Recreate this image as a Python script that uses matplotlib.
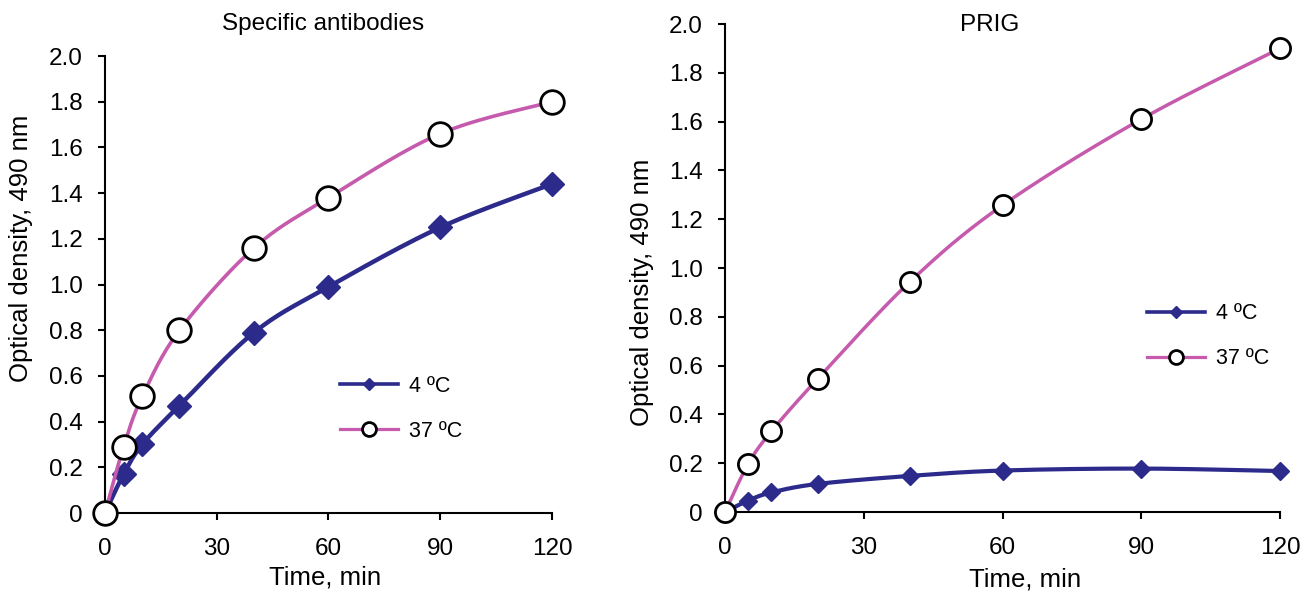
import numpy as np
import matplotlib
matplotlib.use("Agg")
import matplotlib.pyplot as plt
from matplotlib.lines import Line2D

plt.rcParams['font.family'] = ['Liberation Sans', 'DejaVu Sans']

# время, мин
time_min = [0, 5, 10, 20, 40, 60, 90, 120]

# Specific antibodies
spec_4c = [0, 0.17, 0.30, 0.47, 0.79, 0.99, 1.25, 1.44]
spec_37c = [0, 0.29, 0.51, 0.80, 1.16, 1.38, 1.66, 1.80]

# PRIG
prig_4c = [0, 0.047, 0.08, 0.115, 0.148, 0.17, 0.178, 0.168]
prig_37c = [0, 0.197, 0.33, 0.545, 0.944, 1.257, 1.61, 1.90]

y_ticks = [0, 0.2, 0.4, 0.6, 0.8, 1.0, 1.2, 1.4, 1.6, 1.8, 2.0]
y_labels = ['0', '0.2', '0.4', '0.6', '0.8', '1.0', '1.2', '1.4', '1.6', '1.8', '2.0']
x_ticks = [0, 30, 60, 90, 120]

NAVY = '#2c2b8c'
PINK = '#c65aad'


def smooth(xs, ys, n=30):
    # сглаживание как в Excel (Catmull-Rom)
    p = np.column_stack([xs, ys]).astype(float)
    p = np.vstack([p[0], p, p[-1]])
    out = []
    t = np.linspace(0, 1, n)
    for i in range(1, len(p) - 2):
        p0, p1, p2, p3 = p[i-1], p[i], p[i+1], p[i+2]
        c1 = p1 + (p2 - p0) / 6
        c2 = p2 - (p3 - p1) / 6
        seg = ((1-t)**3)[:, None]*p1 + (3*(1-t)**2*t)[:, None]*c1 \
            + (3*(1-t)*t**2)[:, None]*c2 + (t**3)[:, None]*p2
        out.append(seg)
    out = np.vstack(out)
    return out[:, 0], out[:, 1]


def panel(ax, y4, y37, title, title_xy, ms_d, ms_o, lw, ylab_xy, xlab_xy, leg_xy):
    sx, sy = smooth(time_min, y4)
    ax.plot(sx, sy, color=NAVY, lw=lw[0], clip_on=False, zorder=3)
    ax.plot(time_min, y4, 'D', color=NAVY, ms=ms_d, clip_on=False, zorder=4)
    sx, sy = smooth(time_min, y37)
    ax.plot(sx, sy, color=PINK, lw=lw[1], clip_on=False, zorder=5)
    ax.plot(time_min, y37, 'o', mfc='white', mec='black', mew=2.0, ms=ms_o,
            clip_on=False, zorder=6)

    ax.set_xlim(0, 120)
    ax.set_ylim(0, 2.0)
    ax.set_xticks(x_ticks)
    ax.set_yticks(y_ticks)
    ax.set_yticklabels(y_labels)
    for s in ['top', 'right']:
        ax.spines[s].set_visible(False)
    for s in ['left', 'bottom']:
        ax.spines[s].set_linewidth(1.5)
    ax.tick_params(axis='both', direction='out', length=5, width=1.5, labelsize=17.5)
    ax.tick_params(axis='y', pad=11)
    ax.tick_params(axis='x', pad=13)

    ax.set_ylabel('Optical density, 490 nm', fontsize=18.5, va='center')
    ax.yaxis.set_label_coords(*ylab_xy)
    ax.set_xlabel('Time, min', fontsize=18.5, va='center')
    ax.xaxis.set_label_coords(*xlab_xy)
    ax.text(title_xy[0], title_xy[1], title, transform=ax.transAxes,
            ha='center', va='center', fontsize=17.5)

    handles = [
        Line2D([], [], color=NAVY, lw=2.6, marker='D', ms=6.5),
        Line2D([], [], color=PINK, lw=2.3, marker='o', mfc='white', mec='black',
               mew=2.0, ms=10),
    ]
    ax.legend(handles, ['4 ºC', '37 ºC'], loc='center left', bbox_to_anchor=leg_xy,
              frameon=False, fontsize=15.5, handlelength=2.7, handletextpad=0.5,
              labelspacing=1.1, borderpad=0, borderaxespad=0)


fig = plt.figure(figsize=(13.04, 5.98), dpi=100)
ax1 = fig.add_axes([0.0805, 0.1421, 0.3428, 0.7642])
ax2 = fig.add_axes([0.556, 0.1438, 0.4256, 0.816])

panel(ax1, spec_4c, spec_37c, 'Specific antibodies', (0.488, 1.070), 12.5, 17,
      (3.2, 2.6), (-0.188, 0.58), (0.492, -0.142), (0.526, 0.228))
panel(ax2, prig_4c, prig_37c, 'PRIG', (0.477, 0.998), 9, 14.5,
      (3.0, 2.5), (-0.150, 0.451), (0.541, -0.139), (0.760, 0.360))

fig.savefig('out.png', dpi=100)
